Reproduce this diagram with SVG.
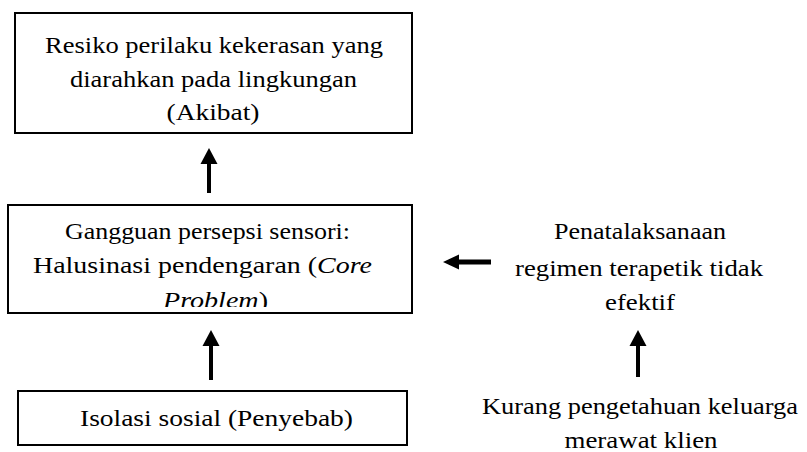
<svg xmlns="http://www.w3.org/2000/svg" width="807" height="452" viewBox="0 0 807 452">
<style>
.box{fill:#fff;stroke:#000;stroke-width:2}
.t{fill:#000;text-anchor:middle}
.arr{fill:#000;stroke:none}
</style>
<defs>
<clipPath id="clipMid"><rect x="9" y="206" width="402" height="101"/></clipPath>
</defs>
<rect width="807" height="452" fill="#fff"/>
<g font-family="'Liberation Serif', 'Times New Roman', serif" font-size="24">
<g id="node-akibat">
<rect class="box" x="15" y="13" width="397" height="120"/>
<text class="t" x="214" y="53" textLength="338" lengthAdjust="spacingAndGlyphs">Resiko perilaku kekerasan yang</text>
<text class="t" x="213.5" y="87" textLength="287" lengthAdjust="spacingAndGlyphs">diarahkan pada lingkungan</text>
<text class="t" x="213" y="120" textLength="93" lengthAdjust="spacingAndGlyphs">(Akibat)</text>
</g>
<g id="node-core">
<rect class="box" x="8" y="205" width="404" height="108"/>
<g clip-path="url(#clipMid)">
<text class="t" x="207.5" y="239" textLength="285" lengthAdjust="spacingAndGlyphs">Gangguan persepsi sensori:</text>
<text class="t" x="202.5" y="273" textLength="339" lengthAdjust="spacingAndGlyphs">Halusinasi pendengaran (<tspan font-style="italic">Core</tspan></text>
<text class="t" x="215.5" y="308" textLength="105" lengthAdjust="spacingAndGlyphs"><tspan font-style="italic">Problem</tspan>)</text>
</g>
</g>
<g id="node-penyebab">
<rect class="box" x="18" y="391" width="389" height="54"/>
<text class="t" x="216.5" y="426" textLength="273" lengthAdjust="spacingAndGlyphs">Isolasi sosial (Penyebab)</text>
</g>
<g id="node-regimen">
<text class="t" x="640" y="239" textLength="172" lengthAdjust="spacingAndGlyphs">Penatalaksanaan</text>
<text class="t" x="639" y="276" textLength="248" lengthAdjust="spacingAndGlyphs">regimen terapetik tidak</text>
<text class="t" x="640" y="310" textLength="70" lengthAdjust="spacingAndGlyphs">efektif</text>
</g>
<g id="node-pengetahuan">
<text class="t" x="640" y="414" textLength="316" lengthAdjust="spacingAndGlyphs">Kurang pengetahuan keluarga</text>
<text class="t" x="641" y="448" textLength="153" lengthAdjust="spacingAndGlyphs">merawat klien</text>
</g>
</g>
<g id="connectors">
<path class="arr" d="M207 193 V164 H200.5 L209 148 L217.5 164 H211 V193 Z"/>
<path class="arr" d="M209 380 V346 H202.5 L211 330 L219.5 346 H213 V380 Z"/>
<path class="arr" d="M491 259.5 H459 V254.5 L443 262 L459 269.5 V264.5 H491 Z"/>
<path class="arr" d="M636 377 V346 H629.5 L638 330 L646.5 346 H640 V377 Z"/>
</g>
</svg>
